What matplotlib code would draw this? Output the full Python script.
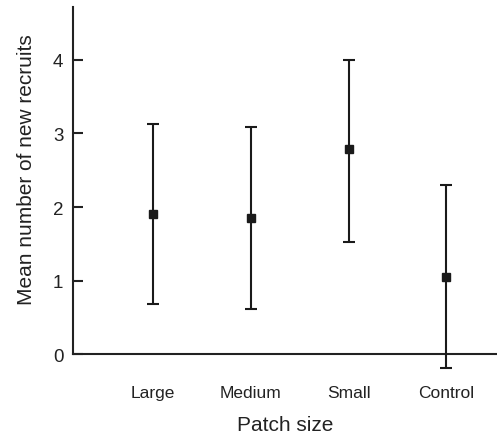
import numpy as np
import matplotlib.pyplot as plt

plt.rcParams['font.family'] = ['Liberation Sans', 'DejaVu Sans']

# Values
patches = ['Large', 'Medium', 'Small', 'Control']
means = [1.90, 1.85, 2.79, 1.05]
upper = [3.13, 3.09, 4.00, 2.30]
lower = [0.68, 0.61, 1.52, -0.19]

x = np.arange(len(patches))
means = np.array(means)
yerr = [means - np.array(lower), np.array(upper) - means]

fig = plt.figure(figsize=(4.97, 4.39), dpi=100)
ax = fig.add_axes([0.147, 0.191, 0.853, 0.791])

ax.errorbar(x, means, yerr=yerr, fmt='s', color='#1a1a1a', markersize=5.5,
            elinewidth=1.5, capsize=4, capthick=1.5, clip_on=False, zorder=3)

ax.set_xlim(-0.82, 3.52)
ax.set_ylim(0, 4.72)
ax.set_yticks([0, 1, 2, 3, 4])
ax.set_xticks(x)
ax.set_xticklabels(patches, fontsize=12.5, color='#222222')
ax.tick_params(axis='x', length=0, pad=22)
ax.tick_params(axis='y', direction='in', length=7, width=1.5, labelsize=13.5,
               pad=7, colors='#222222')

for side in ['top', 'right']:
    ax.spines[side].set_visible(False)
for side in ['left', 'bottom']:
    ax.spines[side].set_linewidth(1.5)
    ax.spines[side].set_color('#222222')

ax.set_xlabel('Patch size', fontsize=15, color='#222222', labelpad=11)
ax.set_ylabel('Mean number of new recruits', fontsize=15, color='#222222')
ax.yaxis.set_label_coords(-0.088, 0.535)

fig.savefig('out.png', dpi=100)
